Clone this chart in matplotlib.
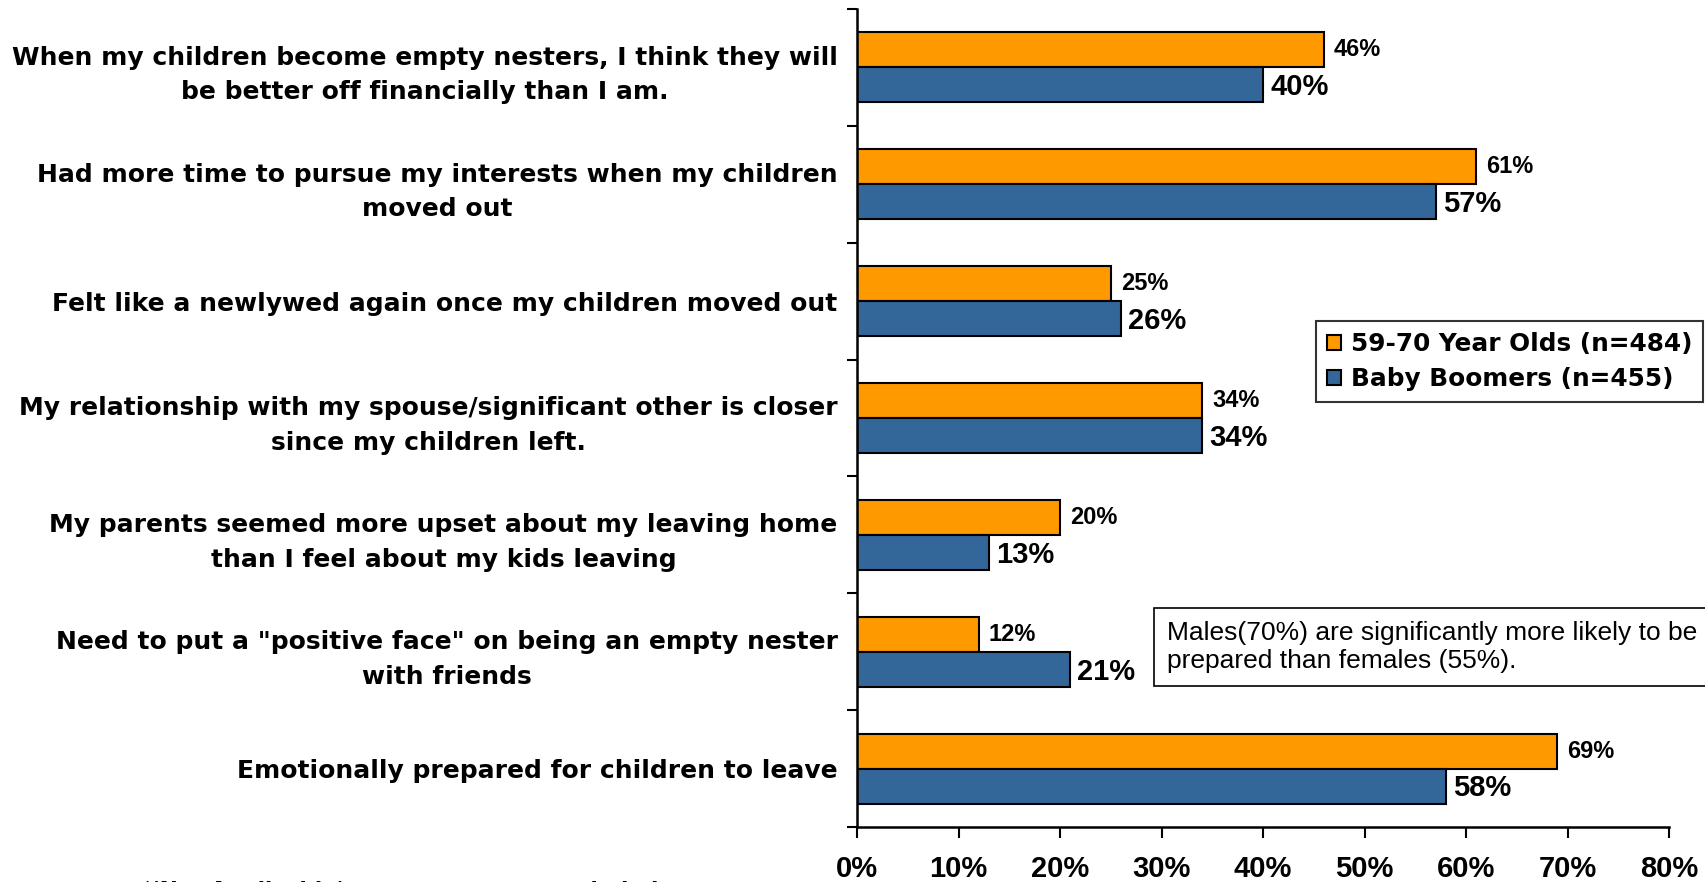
import matplotlib.pyplot as plt
import numpy as np
from matplotlib.patches import Patch

ORANGE = '#FF9900'
BLUE = '#336699'

categories = [
    'When my children become empty nesters, I think they will\nbe better off financially than I am.',
    'Had more time to pursue my interests when my children\nmoved out',
    'Felt like a newlywed again once my children moved out',
    'My relationship with my spouse/significant other is closer\nsince my children left.',
    'My parents seemed more upset about my leaving home\nthan I feel about my kids leaving',
    'Need to put a "positive face" on being an empty nester\nwith friends',
    'Emotionally prepared for children to leave',
]
older_vals = [46, 61, 25, 34, 20, 12, 69]
boomer_vals = [40, 57, 26, 34, 13, 21, 58]
series_names = ['59-70 Year Olds (n=484)', 'Baby Boomers (n=455)']
x_ticks = [0, 10, 20, 30, 40, 50, 60, 70, 80]

note_text = 'Males(70%) are significantly more likely to be\nprepared than females (55%).'
footnote = "*'Not Applicable' responses were excluded"

plt.rcParams['font.family'] = ['Liberation Sans', 'DejaVu Sans']
WIDE = ['DejaVu Sans', 'Liberation Sans']

fig = plt.figure(figsize=(17.05, 8.82), dpi=100)
ax = fig.add_axes([857 / 1705, 1 - 827 / 882, (1669 - 857) / 1705, (827 - 9) / 882])

y = np.arange(len(categories))
h = 0.3
ax.barh(y - h / 2, older_vals, height=h, color=ORANGE, edgecolor='black', linewidth=1.5)
ax.barh(y + h / 2, boomer_vals, height=h, color=BLUE, edgecolor='black', linewidth=1.5)

for yi, v in zip(y, older_vals):
    ax.text(v + 1.0, yi - h / 2, f'{v}%', va='center', ha='left',
            fontsize=17, fontweight='bold')
for yi, v in zip(y, boomer_vals):
    ax.text(v + 0.7, yi + h / 2 + 0.02, f'{v}%', va='center', ha='left',
            fontsize=21, fontweight='bold')

ax.set_xlim(0, 80)
ax.set_ylim(len(categories) - 0.5, -0.5)

ax.set_xticks(x_ticks)
ax.set_xticklabels([f'{t}%' for t in x_ticks], fontsize=21, fontweight='bold')
ax.tick_params(axis='x', direction='out', length=8, width=1.5, pad=12)

ax.set_yticks(y)
ax.set_yticklabels(categories, fontsize=18, fontweight='bold', linespacing=1.55,
                   multialignment='center', family=WIDE)
ax.tick_params(axis='y', which='major', length=0, pad=14)
ax.set_yticks(np.arange(len(categories) + 1) - 0.5, minor=True)
ax.tick_params(axis='y', which='minor', direction='out', length=7, width=1.5)

for side in ['top', 'right']:
    ax.spines[side].set_visible(False)
for side in ['left', 'bottom']:
    ax.spines[side].set_linewidth(1.8)

handles = [Patch(facecolor=ORANGE, edgecolor='black', linewidth=1.5),
           Patch(facecolor=BLUE, edgecolor='black', linewidth=1.5)]
leg = fig.legend(handles, series_names, loc='upper left',
                 bbox_to_anchor=(1316 / 1705, 1 - 321 / 882),
                 prop={'size': 17.8, 'weight': 'bold', 'family': WIDE},
                 frameon=True, fancybox=False,
                 handlelength=0.55, handleheight=0.55, handletextpad=0.4,
                 labelspacing=0.45, borderpad=0.45, borderaxespad=0)
leg.get_frame().set_edgecolor('black')
leg.get_frame().set_linewidth(1.5)

fig.text(1167 / 1705, 1 - 647 / 882, note_text, fontsize=19, va='center', ha='left',
         linespacing=1.2,
         bbox=dict(boxstyle='square,pad=0.5', facecolor='white', edgecolor='black', linewidth=1.2))

fig.text(142 / 1705, 1 - 881 / 882, footnote, fontsize=15.5, fontweight='bold',
         va='top', ha='left', family=WIDE)

fig.savefig('out.png', dpi=100)
